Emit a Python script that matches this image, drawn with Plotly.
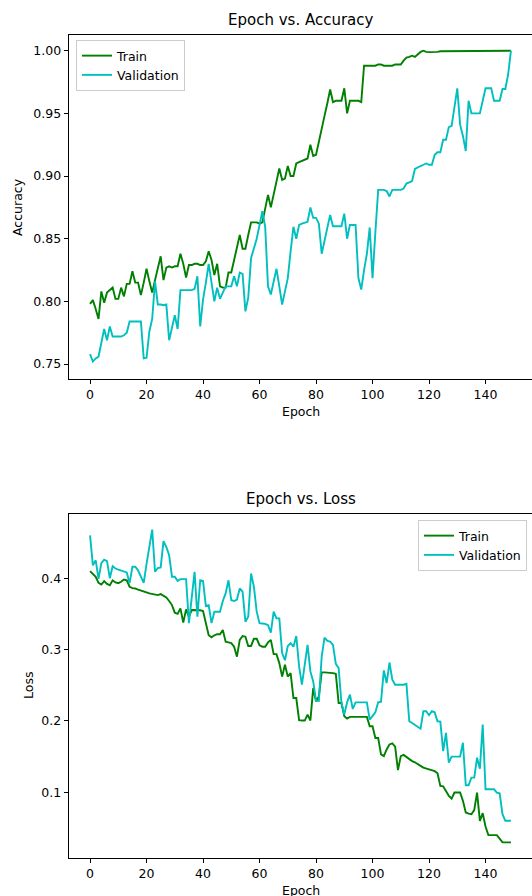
import plotly.graph_objects as go

epochs = list(range(150))

train_acc = [
    0.798, 0.801, 0.794, 0.786, 0.808, 0.799, 0.807, 0.809, 0.811, 0.802,
    0.802, 0.811, 0.804, 0.814, 0.814, 0.824, 0.815, 0.815, 0.805, 0.815,
    0.826, 0.816, 0.807, 0.817, 0.827, 0.836, 0.817, 0.827, 0.828, 0.827,
    0.828, 0.828, 0.838, 0.830, 0.819, 0.829, 0.829, 0.830, 0.830, 0.829,
    0.829, 0.832, 0.840, 0.833, 0.821, 0.830, 0.812, 0.811, 0.811, 0.823,
    0.823, 0.833, 0.843, 0.853, 0.842, 0.842, 0.853, 0.863, 0.863, 0.863,
    0.862, 0.863, 0.874, 0.885, 0.875, 0.886, 0.896, 0.906, 0.897, 0.898,
    0.908, 0.900, 0.900, 0.910, 0.911, 0.912, 0.913, 0.914, 0.925, 0.916,
    0.917, 0.928, 0.938, 0.948, 0.958, 0.969, 0.959, 0.960, 0.960, 0.960,
    0.970, 0.950, 0.960, 0.960, 0.960, 0.960, 0.959, 0.988, 0.988, 0.988,
    0.988, 0.988, 0.989, 0.989, 0.988, 0.988, 0.988, 0.988, 0.989, 0.989,
    0.989, 0.992, 0.9945, 0.995, 0.996, 0.995, 0.997, 0.999, 1.0, 0.999,
    0.9988, 0.9988, 0.999, 0.999, 0.9995, 0.9995, 0.9997, 1.0, 1.0, 1.0,
    1.0, 1.0, 1.0, 1.0, 1.0, 1.0, 1.0, 1.0, 1.0, 1.0,
    1.0, 1.0, 1.0, 1.0, 1.0, 1.0, 1.0, 1.0, 1.0, 1.0,
]

val_acc = [
    0.758, 0.752, 0.7545, 0.756, 0.767, 0.778, 0.769, 0.780, 0.772, 0.772,
    0.772, 0.772, 0.773, 0.775, 0.784, 0.784, 0.784, 0.784, 0.784, 0.7545,
    0.755, 0.776, 0.786, 0.816, 0.7975, 0.7975, 0.797, 0.7975, 0.769, 0.779,
    0.789, 0.778, 0.809, 0.809, 0.809, 0.809, 0.809, 0.810, 0.820, 0.780,
    0.8015, 0.815, 0.830, 0.815, 0.800, 0.811, 0.802, 0.807, 0.812, 0.812,
    0.812, 0.820, 0.812, 0.823, 0.822, 0.792, 0.803, 0.8345, 0.842, 0.850,
    0.861, 0.872, 0.8595, 0.812, 0.8055, 0.815, 0.826, 0.812, 0.7975, 0.808,
    0.8185, 0.840, 0.8595, 0.850, 0.861, 0.862, 0.8625, 0.8635, 0.875, 0.8666,
    0.8666, 0.862, 0.838, 0.848, 0.858, 0.869, 0.860, 0.860, 0.860, 0.860,
    0.870, 0.850, 0.861, 0.861, 0.861, 0.8186, 0.8094, 0.825, 0.838, 0.859,
    0.8186, 0.855, 0.889, 0.889, 0.889, 0.888, 0.8837, 0.889, 0.889, 0.889,
    0.889, 0.890, 0.894, 0.895, 0.896, 0.9056, 0.907, 0.908, 0.909, 0.910,
    0.909, 0.909, 0.917, 0.919, 0.919, 0.929, 0.929, 0.939, 0.940, 0.955,
    0.970, 0.941, 0.932, 0.920, 0.960, 0.950, 0.950, 0.950, 0.950, 0.960,
    0.970, 0.970, 0.970, 0.960, 0.960, 0.960, 0.9694, 0.9694, 0.981, 1.0,
]

train_loss = [
    0.4098, 0.4065, 0.402, 0.3935, 0.391, 0.3958, 0.392, 0.390, 0.397, 0.394,
    0.393, 0.395, 0.398, 0.397, 0.388, 0.386, 0.3856, 0.384, 0.383, 0.382,
    0.380, 0.3786, 0.3777, 0.377, 0.3763, 0.3777, 0.3749, 0.373, 0.368, 0.3623,
    0.3516, 0.350, 0.3577, 0.3377, 0.3563, 0.346, 0.3553, 0.3553, 0.3553, 0.355,
    0.354, 0.3368, 0.320, 0.3172, 0.320, 0.3215, 0.3215, 0.3274, 0.311, 0.310,
    0.3089, 0.304, 0.290, 0.3135, 0.319, 0.318, 0.305, 0.305, 0.315, 0.315,
    0.306, 0.304, 0.304, 0.310, 0.3135, 0.2935, 0.2935, 0.281, 0.262, 0.2786,
    0.262, 0.267, 0.232, 0.232, 0.201, 0.2005, 0.2005, 0.2088, 0.2005, 0.246,
    0.2274, 0.2344, 0.268, 0.268, 0.268, 0.267, 0.267, 0.266, 0.225, 0.225,
    0.2065, 0.2033, 0.2056, 0.2056, 0.2056, 0.2056, 0.2056, 0.2056, 0.2056, 0.1925,
    0.1925, 0.176, 0.176, 0.153, 0.1507, 0.160, 0.167, 0.1684, 0.164, 0.131,
    0.1507, 0.1523, 0.1493, 0.147, 0.1437, 0.142, 0.140, 0.137, 0.1345, 0.133,
    0.132, 0.130, 0.1296, 0.1265, 0.1088, 0.1083, 0.1005, 0.095, 0.0912, 0.0996,
    0.0996, 0.0996, 0.088, 0.0717, 0.070, 0.0693, 0.075, 0.0996, 0.060, 0.0707,
    0.052, 0.040, 0.040, 0.040, 0.040, 0.035, 0.0298, 0.0298, 0.0298, 0.0298,
]

val_loss = [
    0.460, 0.418, 0.425, 0.399, 0.421, 0.426, 0.424, 0.400, 0.4167, 0.4135,
    0.412, 0.411, 0.409, 0.408, 0.393, 0.416, 0.416, 0.411, 0.402, 0.3935,
    0.420, 0.446, 0.468, 0.409, 0.414, 0.415, 0.452, 0.4437, 0.432, 0.402,
    0.402, 0.396, 0.3986, 0.3986, 0.3986, 0.337, 0.375, 0.4088, 0.346, 0.397,
    0.396, 0.361, 0.362, 0.337, 0.353, 0.353, 0.353, 0.368, 0.3786, 0.397,
    0.369, 0.368, 0.370, 0.3856, 0.381, 0.339, 0.346, 0.4066, 0.388, 0.353,
    0.337, 0.3365, 0.336, 0.334, 0.3237, 0.353, 0.3437, 0.3437, 0.295, 0.285,
    0.305, 0.309, 0.304, 0.319, 0.2763, 0.2507, 0.280, 0.3065, 0.2693, 0.2553,
    0.2284, 0.228, 0.290, 0.3167, 0.312, 0.311, 0.3065, 0.280, 0.274, 0.225,
    0.209, 0.226, 0.2368, 0.2167, 0.226, 0.226, 0.226, 0.226, 0.226, 0.2018,
    0.2075, 0.212, 0.226, 0.227, 0.2707, 0.253, 0.2818, 0.2577, 0.2507, 0.2507,
    0.2507, 0.2507, 0.252, 0.1995, 0.197, 0.194, 0.192, 0.189, 0.2135, 0.2135,
    0.208, 0.2135, 0.212, 0.1995, 0.199, 0.1577, 0.1833, 0.1414, 0.150, 0.150,
    0.150, 0.150, 0.1694, 0.1098, 0.1098, 0.1205, 0.1205, 0.1484, 0.133, 0.195,
    0.1042, 0.1042, 0.1042, 0.1042, 0.0996, 0.0986, 0.0693, 0.060, 0.060, 0.060,
]

acc_ticks = [0.75, 0.80, 0.85, 0.90, 0.95, 1.00]
loss_ticks = [0.1, 0.2, 0.3, 0.4]
epoch_ticks = [0, 20, 40, 60, 80, 100, 120, 140]

GREEN = "#008000"
CYAN = "#00BFBF"
FONT = "DejaVu Sans, Arial, sans-serif"
FS = 12.5
LW = 1.9

fig = go.Figure()
fig.add_trace(go.Scatter(x=epochs, y=train_acc, mode="lines", name="Train",
                         line=dict(color=GREEN, width=LW), xaxis="x", yaxis="y", legend="legend"))
fig.add_trace(go.Scatter(x=epochs, y=val_acc, mode="lines", name="Validation",
                         line=dict(color=CYAN, width=LW), xaxis="x", yaxis="y", legend="legend"))
fig.add_trace(go.Scatter(x=epochs, y=train_loss, mode="lines", name="Train",
                         line=dict(color=GREEN, width=LW), xaxis="x2", yaxis="y2", legend="legend2"))
fig.add_trace(go.Scatter(x=epochs, y=val_loss, mode="lines", name="Validation",
                         line=dict(color=CYAN, width=LW), xaxis="x2", yaxis="y2", legend="legend2"))

ax_common = dict(showline=True, mirror=True, linecolor="black", linewidth=1,
                 ticks="outside", ticklen=4.4, tickwidth=1, tickcolor="black",
                 showgrid=False, zeroline=False,
                 tickfont=dict(family=FONT, size=FS, color="black"))

# plot area: x 69..532, y 35..858 (px)
L, T, B = 69, 35, 38
H = 896
W = 532
plot_w = W - L
plot_h = H - T - B

def yfrac(px):
    return (H - B - px) / plot_h

def xfrac(px):
    return (px - L) / plot_w

xr = [-7.45, 156.45]
fig.update_layout(
    width=W, height=H,
    paper_bgcolor="white", plot_bgcolor="white",
    margin=dict(l=L, r=0, t=T, b=B),
    font=dict(family=FONT, size=FS, color="black"),
    xaxis=dict(domain=[0, 1], anchor="y", range=xr, tickvals=epoch_ticks, **ax_common),
    yaxis=dict(domain=[yfrac(379), 1.0], anchor="x", range=[0.7381, 1.0125],
               tickvals=acc_ticks, tickformat=".2f", **ax_common),
    xaxis2=dict(domain=[0, 1], anchor="y2", range=xr, tickvals=epoch_ticks, **ax_common),
    yaxis2=dict(domain=[0.0, yfrac(514)], anchor="x2", range=[0.0079, 0.4899],
                tickvals=loss_ticks, tickformat=".1f", **ax_common),
    legend=dict(x=xfrac(76), y=yfrac(40), xanchor="left", yanchor="top",
                bgcolor="rgba(255,255,255,0.8)", bordercolor="#cccccc", borderwidth=1,
                font=dict(family=FONT, size=FS, color="black"), tracegroupgap=0),
    legend2=dict(x=xfrac(527), y=yfrac(520), xanchor="right", yanchor="top",
                 bgcolor="rgba(255,255,255,0.8)", bordercolor="#cccccc", borderwidth=1,
                 font=dict(family=FONT, size=FS, color="black"), tracegroupgap=0),
    showlegend=True,
)

def px_ann(text, x, y, size, angle=0):
    fig.add_annotation(text=text, xref="paper", yref="paper",
                       x=xfrac(x), y=yfrac(y), showarrow=False,
                       xanchor="center", yanchor="middle", textangle=angle,
                       font=dict(family=FONT, size=size, color="black"))

px_ann("Epoch vs. Accuracy", 301, 20, 15)
px_ann("Epoch vs. Loss", 301, 499, 15)
px_ann("Epoch", 301, 411, FS)
px_ann("Epoch", 301, 890, FS)
px_ann("Accuracy", 18, 207, FS, -90)
px_ann("Loss", 28, 686, FS, -90)

fig.write_html("out.html", config={"displayModeBar": False},
               post_script="document.body.style.margin='0';document.body.style.overflow='hidden';")
